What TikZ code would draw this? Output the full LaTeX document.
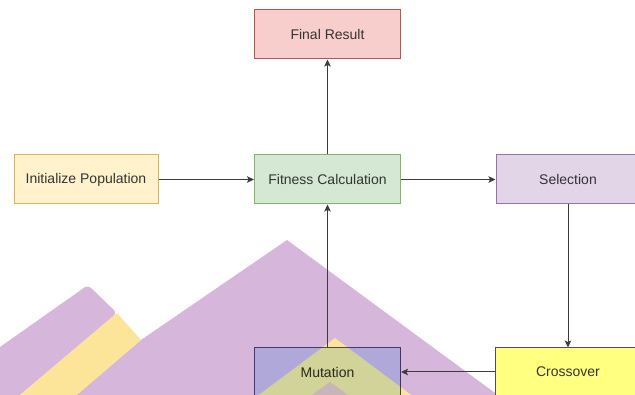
\documentclass[tikz,border=0pt]{standalone}
\usepackage{fontspec}
\setmainfont{Liberation Sans}
\usetikzlibrary{arrows.meta}
\definecolor{txt}{RGB}{51,51,51}
\definecolor{lineclr}{RGB}{60,60,60}
\definecolor{bgpurple}{RGB}{214,182,218}
\definecolor{bgyellow}{RGB}{252,228,152}
\definecolor{bgpink}{RGB}{240,196,186}
\definecolor{finfill}{HTML}{F8CECC}
\definecolor{findraw}{HTML}{B85450}
\definecolor{inifill}{HTML}{FFF2CC}
\definecolor{inidraw}{HTML}{D6B656}
\definecolor{fitfill}{HTML}{D5E8D4}
\definecolor{fitdraw}{HTML}{82B366}
\definecolor{selfill}{HTML}{E1D5E7}
\definecolor{seldraw}{HTML}{9673A6}
\definecolor{crofill}{RGB}{255,255,128}
\definecolor{crodraw}{RGB}{80,80,80}
\definecolor{mutfill}{RGB}{212,236,255}
\definecolor{mutdraw}{RGB}{86,81,126}
\begin{document}
\begin{tikzpicture}[x=1pt,y=-1pt,
  box/.style={draw, line width=1pt, minimum width=146pt, minimum height=49pt,
    inner sep=0pt, font=\fontsize{14}{16}\selectfont, text=txt},
  conn/.style={draw=lineclr, line width=1pt, -{Stealth[length=7pt,width=6.5pt,inset=1.5pt]}}]
\useasboundingbox (0,0) rectangle (635,395);
\begin{scope}
  \clip (0,0) rectangle (635,395);
  % decorative background shapes
  \fill[bgpurple] (287,240) -- (510,404) -- (66,404) -- (141,340) -- cycle;
  \fill[bgpurple, rounded corners=4pt] (-5,350.5) -- (88,285) -- (117,313) -- (14,400) -- (-5,400) -- cycle;
  \fill[bgyellow] (117,313) -- (141,340) -- (71,400) -- (14,400) -- cycle;
  \fill[bgyellow] (335,338) -- (418,400) -- (252,400) -- cycle;
  \fill[bgpink] (330,382) -- (355,400) -- (305,400) -- cycle;

  % nodes
  \node[box, fill=finfill, draw=findraw] (final) at (327.5,34.5) {Final Result};
  \node[box, fill=inifill, draw=inidraw, minimum width=144pt] (init) at (86,179.5) {Initialize Population};
  \node[box, fill=fitfill, draw=fitdraw] (fit) at (327.5,179.5) {Fitness Calculation};
  \node[box, fill=selfill, draw=seldraw, minimum width=144pt] (sel) at (568,179.5) {Selection};
  \node[box, fill=crofill, draw=crodraw, minimum width=145pt, minimum height=48pt] (cross) at (568,372) {Crossover};
  \node[box, fill=mutfill, draw=mutdraw, minimum height=48pt, blend mode=multiply] (mut) at (327.5,372) {Mutation};

  % connectors
  \draw[conn] (init) -- (fit);
  \draw[conn] (fit) -- (sel);
  \draw[conn] (sel) -- (cross);
  \draw[conn] (cross) -- (mut);
  \draw[conn] (mut) -- (fit);
  \draw[conn] (fit) -- (final);
\end{scope}
\end{tikzpicture}
\end{document}
